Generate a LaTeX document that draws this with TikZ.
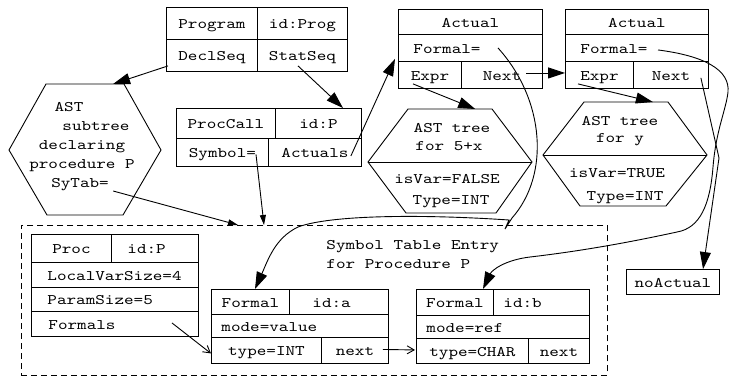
\documentclass[tikz,border=0pt]{standalone}
\usepackage{fontspec}
\newfontfamily\monof{lmmono10-regular.otf}[FakeStretch=1.25]
\usetikzlibrary{arrows.meta,calc}
\begin{document}
\begin{tikzpicture}[x=1pt,y=-1pt,line width=0.9pt,
  font=\monof\fontsize{14.6}{19}\selectfont,
  cell/.style 2 args={draw, rectangle, inner sep=0pt, anchor=north west,
     minimum width=#1pt, minimum height=#2pt, text height=11pt, text depth=0pt},
  lcell/.style n args={4}{cell={#1}{#2}, align=left, inner xsep=#3pt, text width=#4pt},
  txt/.style={inner sep=0pt, anchor=base},
  big/.style={-{Triangle[length=17pt,width=11pt]}},
  small/.style={-{Triangle[length=10pt,width=6pt]}},
  open/.style={-{Straight Barb[length=7pt,width=8pt]}},
  stebox/.style={draw, dash pattern=on 6pt off 4pt, rectangle, inner sep=0pt, anchor=north west}]
\useasboundingbox (0,0) rectangle (730,376);

% Program
\node[cell={91}{32}] (prog) at (166,7) {Program};
\node[cell={90}{32}] (progid) at (257,7) {id:Prog};
\node[cell={91}{32}] (decl) at (166,39) {DeclSeq};
\node[cell={90}{32}] (stat) at (257,39) {StatSeq};

% ProcCall
\node[cell={99}{30}] (pc) at (176,108) {ProcCall};
\node[cell={86}{30}] (pcid) at (275,108) {id:P};
\node[cell={92}{28}] (sym) at (176,138) {Symbol=};
\node[cell={93}{28}] (act) at (268,138) {Actuals};

% Actual 1
\node[cell={144}{25}] (a1t) at (398,9) {Actual};
\node[lcell={144}{27}{15}{114}] (a1f) at (398,34) {Formal=};
\node[cell={63}{27}] (a1e) at (398,61) {Expr};
\node[cell={81}{27}] (a1n) at (461,61) {Next};

% Actual 2
\node[cell={143}{25}] (a2t) at (565,9) {Actual};
\node[lcell={143}{27}{15}{113}] (a2f) at (565,34) {Formal=};
\node[cell={68}{27}] (a2e) at (565,61) {Expr};
\node[cell={75}{27}] (a2n) at (633,61) {Next};

% AST hexagon
\draw (9,150) -- (46,84) coordinate (astTL) -- (124,84) coordinate (astTR)
  -- (161,150) -- (123,215) -- (47,215) -- cycle;
\node[txt] (h0a) at (69,111) {AST};
\node[txt] (h0b) at (96,130) {subtree};
\node[txt] (h0c) at (82,149) {declaring};
\node[txt] (h0d) at (82,168) {procedure P};
\node[txt] (sytab) at (80,187) {SyTab=};

% Hexagon 1
\draw (368,162) -- (408,109) coordinate (h1TL) -- (492,109) coordinate (h1TR)
  -- (532,162) -- (496,213) -- (406,213) -- cycle;
\draw (368,162) -- (532,162);
\node[txt] (h1a) at (452,132) {AST tree};
\node[txt] (h1b) at (449,150) {for 5+x};
\node[txt] (h1c) at (447,183) {isVar=FALSE};
\node[txt] (h1d) at (451,204) {Type=INT};

% Hexagon 2
\draw (543,155) -- (584,102) coordinate (h2TL) -- (668,102) coordinate (h2TR)
  -- (707,155) -- (666,206) -- (580,206) -- cycle;
\draw (543,155) -- (707,155);
\node[txt] (h2a) at (620,125) {AST tree};
\node[txt] (h2b) at (620,142) {for y};
\node[txt] (h2c) at (617,177) {isVar=TRUE};
\node[txt] (h2d) at (625,200) {Type=INT};

% Symbol table entry
\node[stebox, minimum width=586pt, minimum height=150pt] (ste) at (21,225) {};
\node[txt, anchor=base west] (stet1) at (326,249) {Symbol Table Entry};
\node[txt, anchor=base west] (stet2) at (326,268) {for Procedure P};

% Proc
\node[cell={80}{28}] (proc) at (31,234) {Proc};
\node[lcell={87}{28}{16}{55}] (procid) at (111,234) {id:P};
\node[lcell={167}{25}{16}{135}] (lvs) at (31,262) {LocalVarSize=4};
\node[lcell={167}{24}{16}{135}] (ps) at (31,287) {ParamSize=5};
\node[lcell={167}{25}{17}{133}] (fms) at (31,311) {Formals};

% Formal a
\node[cell={78}{25}] (fa) at (211,289) {Formal};
\node[lcell={99}{25}{23}{53}] (faid) at (289,289) {id:a};
\node[lcell={177}{23}{10}{157}] (famode) at (211,314) {mode=value};
\node[cell={110}{26}] (fatype) at (211,337) {type=INT};
\node[cell={67}{26}] (fanext) at (321,337) {next};

% Formal b
\node[cell={77}{26}] (fb) at (416,289) {Formal};
\node[lcell={96}{26}{10}{76}] (fbid) at (493,289) {id:b};
\node[lcell={173}{23}{10}{153}] (fbmode) at (416,315) {mode=ref};
\node[cell={112}{25}] (fbtype) at (416,338) {type=CHAR};
\node[cell={61}{25}] (fbnext) at (528,338) {next};

% noActual
\node[cell={93}{25}] (noact) at (626,269) {noActual};

% connectors
\draw[big] ($(decl.south west)+(2,-6)$) -- ($(astTL)!0.86!(astTR)$);
\draw[big] ($(stat.south west)+(41,-6)$) -- ($(pcid.north west)+(68,0)$);
\draw[big] ($(act.south east)+(-11,-11)$) -- ($(a1f.south west)+(-3,-3)$);
\draw[small] ($(sym.west)+(80,2)$) -- ($(ste.north west)+(243,0)$);
\draw[small] ($(sytab.base east)+(4,4)$) -- ($(ste.north west)+(217,0)$);
\draw[big] ($(a1n.west)+(65,-2)$) -- ($(a2e.west)+(0,-2)$);
\draw[big] ($(a1e.south west)+(15,-5)$) -- ($(h1TL)!0.8!(h1TR)$);
\draw[big] ($(a2e.south west)+(13,-5)$) -- ($(h2TL)!0.82!(h2TR)$);
\coordinate (bend) at (719,158);
\draw[big] ($(a2n.south east)+(-8,-11)$) -- (bend) -- ($(noact.north west)+(77,0)$);
\draw[open] ($(fms.west)+(141,-1)$) -- ($(fatype.west)+(0,3)$);
\draw[open] ($(fanext.east)+(-6,-1)$) -- ($(fbtype.west)+(-1,-1)$);

\draw[big] ($(a1f.west)+(100,0)$) .. controls (545,100) and (550,175) .. (512,218)
  -- (505,229) -- (509,220) .. controls (420,214) and (330,215) .. (298,227)
  .. controls (275,238) and (268,260) .. ($(fa.north west)+(44,0)$);
\draw[big] ($(a2f.west)+(93,2)$) .. controls (705,56) and (730,70) .. (728,92)
  .. controls (726,110) and (716,130) .. (713,167)
  .. controls (710,205) and (700,228) .. (677,232)
  .. controls (640,240) and (590,250) .. (530,257)
  .. controls (505,260) and (492,270) .. ($(fb.north west)+(67,0)$);
\end{tikzpicture}
\end{document}
